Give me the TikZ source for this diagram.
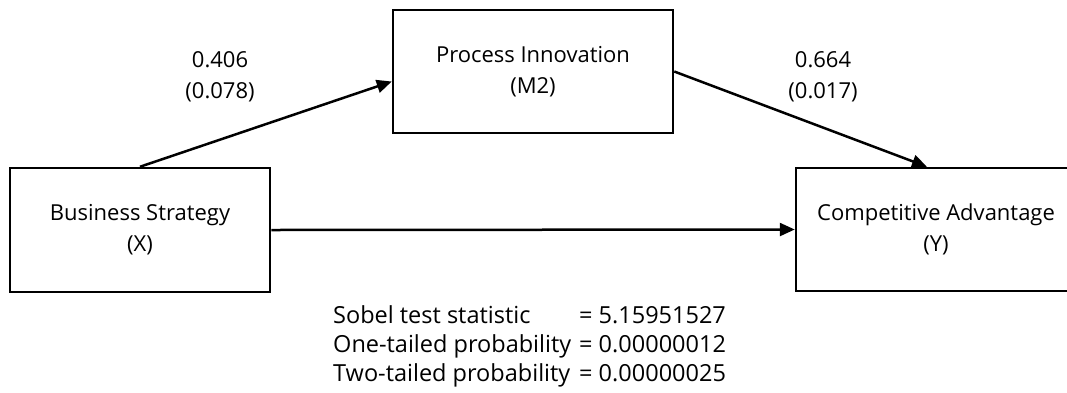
\documentclass[tikz,border=0pt]{standalone}
\usepackage{fontspec}
\setmainfont{Open Sans}
\usetikzlibrary{arrows.meta}
\begin{document}
\begin{tikzpicture}[x=1pt,y=-1pt,
    font=\fontsize{22}{31}\selectfont,
    var/.style={draw,line width=2.5pt,align=center,minimum width=280pt,minimum height=123pt},
    path/.style={line width=2.5pt,-{Triangle[length=15pt,width=13pt]}},
    coef/.style={align=center}]
                \useasboundingbox (0,0) rectangle (1067,392);
                \node[var,minimum width=260pt,minimum height=124pt] (X) at (140,230) {Business Strategy\\(X)};
                \node[var] (M) at (533,71.5) {Process Innovation\\(M2)};
                \node[var] (Y) at (936,229.5) {Competitive Advantage\\(Y)};
                \draw[path] (X.north) -- ([yshift=-10pt]M.west);
                \draw[path] (M.east) -- ([xshift=-9pt]Y.north);
                \draw[path] (X.east) -- (Y.west);
                \node[coef] (a) at (220,77) {0.406\\(0.078)};
                \node[coef] (b) at (823,77) {0.664\\(0.017)};
                \node[anchor=base west,inner sep=0pt,font=\fontsize{23.5}{29}\selectfont] (sobel) at (333,323) {%
                  \begin{tabular}[t]{@{}l@{\hspace{8pt}}l@{}}
                    Sobel test statistic & = 5.15951527\\
                    One-tailed probability & = 0.00000012\\
                    Two-tailed probability & = 0.00000025
                  \end{tabular}};
            \end{tikzpicture}
\end{document}
